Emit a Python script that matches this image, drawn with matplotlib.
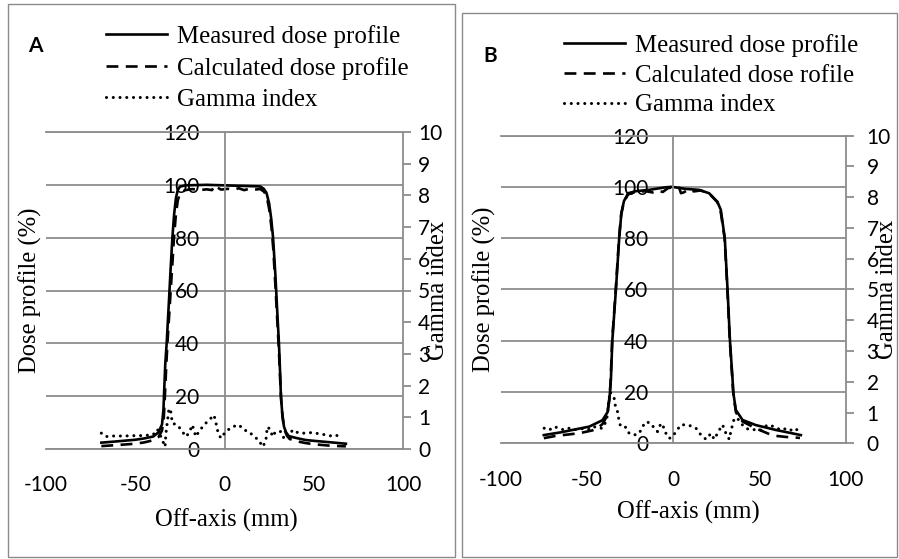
import matplotlib
matplotlib.use('Agg')
import matplotlib.pyplot as plt
from matplotlib.patches import Rectangle
from matplotlib.font_manager import FontProperties

plt.rcParams['axes.unicode_minus'] = False

# ---------------- data ----------------
# Panel A
xA_meas = [-69, -60, -50, -45, -40, -37, -35, -34.2, -33.8, -33.2, -32.4, -31.2, -30.2, -29.2, -28.2, -27.2,
           -26.2, -25, -22, -10, 0, 10, 20, 22, 23.5, 25, 26.2, 27.2, 28.5, 29.7, 30.5, 31.2, 31.6, 32.3,
           33.3, 34.5, 36, 40, 45.5, 50, 60, 68]
yA_meas = [2.4, 2.9, 3.5, 4.0, 4.7, 6.3, 9.3, 15, 22, 32, 40, 55, 68, 80, 89, 95,
           98, 99.3, 99.8, 100, 99.8, 99.6, 99.4, 98.5, 97, 93, 87, 80, 66, 50, 40, 28, 20, 14,
           8.5, 6.3, 4.9, 4.2, 3.4, 3.1, 2.5, 2.0]
xA_calc = [-69, -60, -50, -45, -40, -37, -35, -34, -33.4, -32.6, -31.8, -30.6, -29.4, -28.3, -27.2, -26.2,
           -25, -22, -18, -14, -10, -7, -5.5, -4, -2, 2, 5, 8, 11, 14, 17, 20, 22, 23.5, 25, 26.3,
           27.3, 28.5, 29.7, 30.5, 31.2, 31.8, 32.5, 33.5, 35, 36.5, 40, 45, 50, 55, 60, 68]
yA_calc = [1.1, 1.5, 2.0, 2.5, 3.3, 4.5, 7, 12, 20, 32, 42, 55, 68, 80, 89, 94,
           96.8, 98, 98.4, 98.0, 98.3, 98.0, 99.8, 99.0, 98.2, 98.5, 98.2, 98.7, 98.0, 98.5, 98.2, 98.4, 97.5, 96, 91, 84,
           76, 62, 47, 37, 26, 18, 12, 7.5, 5, 3.8, 3.0, 2.3, 1.8, 1.5, 1.2, 1.0]
xA_gam = [-69, -66.5, -64, -60, -56, -52, -48, -44, -40, -37.6, -35.7, -33.3, -33, -32.6, -32, -31.1, -30.1,
          -29.2, -26.4, -23.6, -21.7, -19.9, -18, -16.1, -14.3, -11.5, -8.7, -5.9, -4.9, -4, -2.1, 0.7, 4.4,
          8.1, 10.9, 13.7, 16.5, 19.3, 21.2, 23.1, 24, 25.9, 26.8, 28.7, 31.5, 33.3, 36.1, 38, 41.7, 45.5,
          49.2, 53.9, 57.6, 61.3, 65.1]
yA_gam = [0.5, 0.39, 0.41, 0.41, 0.41, 0.42, 0.42, 0.43, 0.45, 0.62, 0.4, 0.07, 0.34, 0.6, 0.86, 1.28, 1.18,
          0.81, 0.76, 0.55, 0.39, 0.5, 0.76, 0.39, 0.55, 0.76, 0.91, 1.07, 0.86, 0.6, 0.34, 0.55, 0.7,
          0.76, 0.6, 0.55, 0.39, 0.28, 0.07, 0.23, 0.7, 0.6, 0.39, 0.55, 0.55, 0.34, 0.34, 0.6, 0.5, 0.5,
          0.52, 0.47, 0.44, 0.39, 0.47]

# Panel B
xB_meas = [-75, -65, -58.4, -48.7, -41, -38, -36.7, -36.1, -35.3, -33.2, -31.3, -30, -28.5, -26.1, -21.6,
           -14, -4.5, -0.8, 7, 15, 20.8, 25.6, 27.6, 29.9, 31.5, 32.9, 34.4, 34.8, 36.3, 40.2, 47.9, 59.5, 74]
yB_meas = [3.2, 4.3, 5.2, 6.5, 9, 12.2, 19.4, 25, 40, 60, 80, 90, 94.5, 97.5, 98.3,
           98.8, 99.8, 100, 99.2, 98.8, 97.5, 94.2, 91, 80, 60, 40, 25, 20, 13, 9.1, 7.1, 5.2, 3.2]
xB_calc = [-75, -68, -60, -54, -47, -44, -41, -38.5, -37, -36.3, -35.4, -33.3, -31.4, -30.2, -28.6, -26.2,
           -22, -16, -12, -9, -6, -3, 0, 3.5, 4.5, 6, 9, 12, 16, 21, 25.6, 27.6, 29.8, 31.4, 32.8, 34.3,
           34.9, 36.4, 40.2, 47.9, 55, 59.5, 65, 73.5]
yB_calc = [2.0, 2.9, 3.5, 4.0, 5.0, 5.8, 7.5, 10.5, 17, 24, 40, 60, 80, 89, 94, 97,
           98, 98.3, 97.8, 98.5, 98.0, 99.5, 99.8, 99.6, 97.5, 97.8, 99, 98.2, 98.6, 97.3, 94, 90, 80, 60, 40, 25,
           19, 12, 8.5, 5.8, 3.8, 2.9, 2.5, 2.1]
xB_gam = [-74.8, -71.9, -69, -66.1, -63.2, -60.3, -57.4, -54.5, -51.6, -48.7, -45.8, -43.9, -41, -39, -38.1,
          -36.7, -34.2, -33.6, -32.3, -31.3, -30.4, -27.4, -25.5, -22.6, -19.7, -17.8, -15.8, -12.9, -11, -9.1,
          -7.1, -5.2, -4.2, -2.3, -0.4, 1.6, 4.5, 8.4, 11.3, 13.2, 16.1, 19, 21.9, 23.8, 26.7, 28.6, 30.6,
          32.5, 33.4, 34.4, 35.4, 37.3, 39.2, 42.1, 45, 47.9, 50.8, 54.7, 58.6, 62.4, 66.3, 70.1, 74]
yB_gam = [0.49, 0.43, 0.54, 0.49, 0.43, 0.49, 0.45, 0.45, 0.49, 0.45, 0.54, 0.49, 0.49, 0.7, 0.92,
          1.68, 1.46, 1.24, 1.03, 0.7, 0.54, 0.52, 0.32, 0.27, 0.32, 0.54, 0.7, 0.65, 0.49, 0.38,
          0.65, 0.49, 0.32, 0.16, 0.21, 0.38, 0.6, 0.6, 0.54, 0.49, 0.27, 0.13, 0.32, 0.13, 0.43, 0.6, 0.32,
          0.13, 0.38, 0.6, 0.81, 0.81, 0.65, 0.49, 0.43, 0.45, 0.43, 0.6, 0.54, 0.43, 0.49, 0.38, 0.54]

x_ticks = [-100, -50, 0, 50, 100]
dose_ticks = [0, 20, 40, 60, 80, 100, 120]
gamma_ticks = list(range(0, 11))

labels_A = ['Measured dose profile', 'Calculated dose profile', 'Gamma index']
labels_B = ['Measured dose profile', 'Calculated dose rofile', 'Gamma index']

# ---------------- layout ----------------
W, H = 899, 559
fig = plt.figure(figsize=(W / 100, H / 100), dpi=100)
fig.patch.set_facecolor('white')

def fx(px):
    return px / W

def fy(py):
    return 1 - py / H

GRID = '#8c8c8c'
BORDER = '#8a8a8a'
SERIF = 'Liberation Serif'
TICKF = 'Lato'

panels = [
    dict(letter='A', border=(8, 4, 455, 557), axes=(46, 132, 403, 449),
         meas=(xA_meas, yA_meas), calc=(xA_calc, yA_calc), gam=(xA_gam, yA_gam),
         labels=labels_A, leg=(106, 25), legsp=0.35, letterpos=(35, 46),
         ylab_x=-0.045, ylab2_x=1.098, xlab=(0.506, -0.226), rpad=5),
    dict(letter='B', border=(462, 13, 897, 557), axes=(500.7, 135.5, 845.7, 443.3),
         meas=(xB_meas, yB_meas), calc=(xB_calc, yB_calc), gam=(xB_gam, yB_gam),
         labels=labels_B, leg=(564, 34), legsp=0.29, letterpos=(490, 56),
         ylab_x=-0.048, ylab2_x=1.121, xlab=(0.543, -0.225), rpad=9),
]

for p in panels:
    bx0, by0, bx1, by1 = p['border']
    fig.patches.append(Rectangle((fx(bx0), fy(by1)), fx(bx1) - fx(bx0), fy(by0) - fy(by1),
                                 transform=fig.transFigure, fill=False, edgecolor=BORDER, lw=1.0))

    l, t, r, b = p['axes']
    ax = fig.add_axes([fx(l), fy(b), fx(r) - fx(l), fy(t) - fy(b)])
    ax.set_xlim(-100, 100)
    ax.set_ylim(0, 120)
    ax.set_xticks(x_ticks)
    ax.set_yticks(dose_ticks)
    ax.set_facecolor('none')

    for s in ['top', 'bottom', 'left']:
        ax.spines[s].set_color(GRID)
        ax.spines[s].set_linewidth(1.3)
    ax.spines['right'].set_visible(False)
    ax.spines['left'].set_position(('data', 0))
    ax.set_axisbelow(True)
    ax.yaxis.grid(True, color=GRID, lw=1.3)

    ax.tick_params(axis='y', length=0, pad=18, labelsize=15)
    ax.tick_params(axis='x', length=0, pad=19, labelsize=15)
    for lab in ax.get_xticklabels() + ax.get_yticklabels():
        lab.set_fontfamily(TICKF)

    ax2 = ax.twinx()
    ax2.set_ylim(0, 10)
    ax2.set_yticks(gamma_ticks)
    for s in ['top', 'bottom', 'left']:
        ax2.spines[s].set_visible(False)
    ax2.spines['right'].set_color(GRID)
    ax2.spines['right'].set_linewidth(1.3)
    ax2.tick_params(axis='y', length=6, width=1.3, color=GRID, direction='out',
                    pad=p['rpad'], labelsize=15)
    for lab in ax2.get_yticklabels():
        lab.set_fontfamily(TICKF)

    gx, gy = p['gam']
    lg, = ax2.plot(gx, gy, color='black', lw=2.2, linestyle=(0, (0.01, 2.2)),
                   dash_capstyle='round', solid_capstyle='round')
    mx, my = p['meas']
    lm, = ax.plot(mx, my, color='black', lw=1.9, solid_joinstyle='round')
    cx, cy = p['calc']
    lc, = ax.plot(cx, cy, color='black', lw=1.9, linestyle=(0, (4.5, 2.8)))

    ax.set_ylabel('Dose profile (%)', fontfamily=SERIF, fontsize=17.7)
    ax.yaxis.set_label_coords(p['ylab_x'], 0.5)
    ax.yaxis.label.set_va('center')
    ax2.set_ylabel('Gamma index', fontfamily=SERIF, fontsize=17.7)
    ax2.yaxis.set_label_coords(p['ylab2_x'], 0.5)
    ax2.yaxis.label.set_va('center')
    ax.set_xlabel('Off-axis (mm)', fontfamily=SERIF, fontsize=17.7)
    ax.xaxis.set_label_coords(*p['xlab'])
    ax.xaxis.label.set_va('center')

    lx, ly = p['leg']
    ax2.legend([lm, lc, lg], p['labels'], loc='upper left',
               bbox_to_anchor=(fx(lx), fy(ly)), bbox_transform=fig.transFigure,
               frameon=False, borderpad=0, borderaxespad=0, handlelength=2.44,
               handletextpad=0.4, labelspacing=p['legsp'],
               prop=FontProperties(family=SERIF, size=17.9))

    tx, ty = p['letterpos']
    fig.text(fx(tx), fy(ty), p['letter'], fontfamily=TICKF, fontweight='bold',
             fontsize=15, ha='center', va='center')

fig.savefig('out.png', dpi=100, facecolor='white')
